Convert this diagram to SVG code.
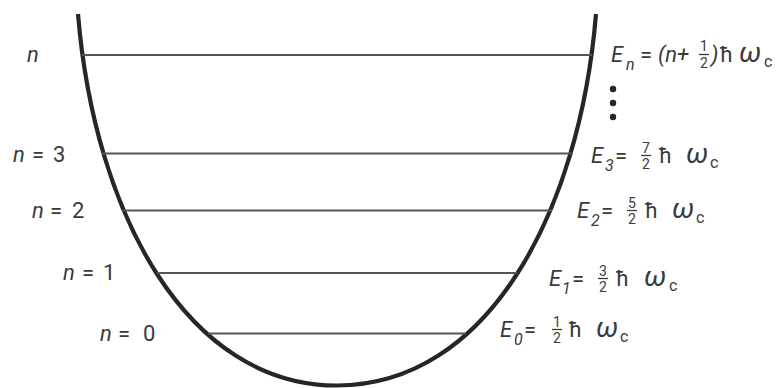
<svg xmlns="http://www.w3.org/2000/svg" width="781" height="388" viewBox="0 0 781 388">
<style>
.t{font-family:Roboto,"Liberation Sans",sans-serif;fill:#3a3a3a;font-size:22px}
.i{font-style:italic}
.s{font-size:16px}
.f{font-size:14px;text-anchor:middle}
.w{font-size:28px;font-style:italic}
.lvl{stroke:#555;stroke-width:2;fill:none}
.bar{stroke:#3a3a3a;stroke-width:1.3}
</style>
<rect width="781" height="388" fill="#fff"/>
<g id="well">
<path d="M78,14 C94.6,214 187,385.5 337,385.5 C487,385.5 579.4,214 596,14" fill="none" stroke="#262626" stroke-width="4.2"/>
</g>
<g id="connectors">
<line class="lvl" x1="82" y1="55" x2="592" y2="55"/>
<line class="lvl" x1="102" y1="153.5" x2="573" y2="153.5"/>
<line class="lvl" x1="122" y1="210.5" x2="552" y2="210.5"/>
<line class="lvl" x1="157" y1="273" x2="517" y2="273"/>
<line class="lvl" x1="208" y1="333.5" x2="466" y2="333.5"/>
</g>
<g id="dots" fill="#262626">
<circle cx="613" cy="89" r="3.2"/>
<circle cx="613" cy="103" r="3.2"/>
<circle cx="613" cy="117" r="3.2"/>
</g>
<g id="left-labels">
<text x="27" y="62" class="t i">n</text>
<g id="n3"><text x="13" y="162" class="t i">n</text><text x="32" y="162" class="t">=</text><text x="53" y="162" class="t">3</text></g>
<g id="n2"><text x="32" y="218" class="t i">n</text><text x="50" y="218" class="t">=</text><text x="72" y="218" class="t">2</text></g>
<g id="n1"><text x="63" y="280" class="t i">n</text><text x="82" y="280" class="t">=</text><text x="103" y="280" class="t">1</text></g>
<g id="n0"><text x="100" y="341" class="t i">n</text><text x="118" y="341" class="t">=</text><text x="143" y="341" class="t">0</text></g>
</g>
<g id="En">
<text x="611" y="62" class="t i">E</text>
<text x="626" y="70" class="t i s">n</text>
<text x="640" y="62" class="t">=</text>
<text x="658" y="62" class="t i">(n+</text>
<text x="704" y="51" class="t f">1</text>
<line class="bar" x1="699" y1="54.5" x2="709" y2="54.5"/>
<text x="704" y="68" class="t f">2</text>
<text x="711" y="62" class="t i">)</text>
<text x="720" y="62" class="t">ħ</text>
<text x="739" y="62" class="t w">ω</text>
<text x="764" y="67" class="t s">c</text>
</g>
<g id="E3">
<text x="591" y="163" class="t i">E</text>
<text x="605" y="171" class="t i s">3</text>
<text x="615" y="163" class="t">=</text>
<text x="646" y="153" class="t f">7</text>
<line class="bar" x1="641" y1="155.5" x2="651" y2="155.5"/>
<text x="646" y="169" class="t f">2</text>
<text x="659" y="163" class="t">ħ</text>
<text x="686" y="163" class="t w">ω</text>
<text x="710" y="168" class="t s">c</text>
</g>
<g id="E2">
<text x="577" y="218" class="t i">E</text>
<text x="591" y="226" class="t i s">2</text>
<text x="601" y="218" class="t">=</text>
<text x="632" y="208" class="t f">5</text>
<line class="bar" x1="627" y1="210.5" x2="637" y2="210.5"/>
<text x="632" y="224" class="t f">2</text>
<text x="645" y="218" class="t">ħ</text>
<text x="672" y="218" class="t w">ω</text>
<text x="696" y="223" class="t s">c</text>
</g>
<g id="E1">
<text x="549" y="286" class="t i">E</text>
<text x="562" y="294" class="t i s">1</text>
<text x="572" y="286" class="t">=</text>
<text x="603" y="276" class="t f">3</text>
<line class="bar" x1="598" y1="278.5" x2="608" y2="278.5"/>
<text x="603" y="292" class="t f">2</text>
<text x="616" y="286" class="t">ħ</text>
<text x="644" y="286" class="t w">ω</text>
<text x="669" y="291" class="t s">c</text>
</g>
<g id="E0">
<text x="500" y="337" class="t i">E</text>
<text x="514" y="345" class="t i s">0</text>
<text x="524" y="337" class="t">=</text>
<text x="557" y="327" class="t f">1</text>
<line class="bar" x1="552" y1="329.5" x2="562" y2="329.5"/>
<text x="557" y="343" class="t f">2</text>
<text x="569" y="337" class="t">ħ</text>
<text x="596" y="337" class="t w">ω</text>
<text x="620" y="342" class="t s">c</text>
</g>
</svg>
